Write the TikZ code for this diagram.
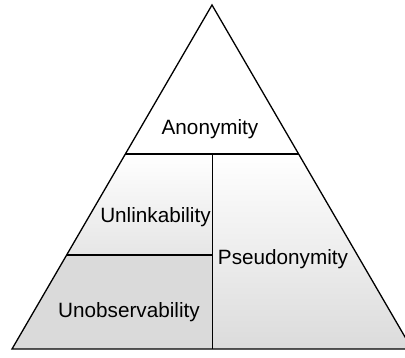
\documentclass[tikz,border=0pt]{standalone}
\usepackage{fontspec}
\setmainfont{Liberation Sans}
\usepackage{tikz}
\usetikzlibrary{calc}
\tikzset{%
	layer line/.style={
		draw=black,
		line width=1.3pt
	},
	layer label/.style={
		draw=none,
		inner sep=0pt,
		font=\fontsize{20.7}{24}\selectfont
	},
}
\begin{document}
\begin{tikzpicture}[
				x=1pt, y=-1pt,
				every node/.style={layer label}
				]
				\useasboundingbox (0,0) rectangle (405,358);
				% corners of the pyramid
				\coordinate (apex) at (212,5);
				\coordinate (bl) at (12,349);
				\coordinate (br) at (412,349);
				\coordinate (al) at (125.4,154);
				\coordinate (ar) at (298.6,154);
				\coordinate (am) at (212.5,154);
				\coordinate (ul) at (66.6,255);
				\coordinate (um) at (212.5,255);
				\coordinate (bm) at (212.5,349);
				
				% fills
				\shade[top color=white, bottom color=gray!20] (al) -- (am) -- (um) -- (ul) -- cycle;
				\shade[top color=white, bottom color=gray!28] (am) -- (ar) -- (br) -- (bm) -- cycle;
				\fill[gray!29] (ul) -- (um) -- (bm) -- (bl) -- cycle;
				
				% outline and dividers
				\draw[layer line, line join=miter] (apex) -- (br) -- (bl) -- cycle;
				\draw[layer line] (al) -- (ar);
				\draw[layer line] (am) -- (bm);
				\draw[layer line] (ul) -- (um);
				
				\node (anonymity) at (210,129) {Anonymity};
				\node (unlinkability) at (155.5,217) {Unlinkability};
				\node (pseudonymity) at (283,259) {Pseudonymity};
				\node (unobservability) at (129,312) {Unobservability};
				
			\end{tikzpicture}
\end{document}
